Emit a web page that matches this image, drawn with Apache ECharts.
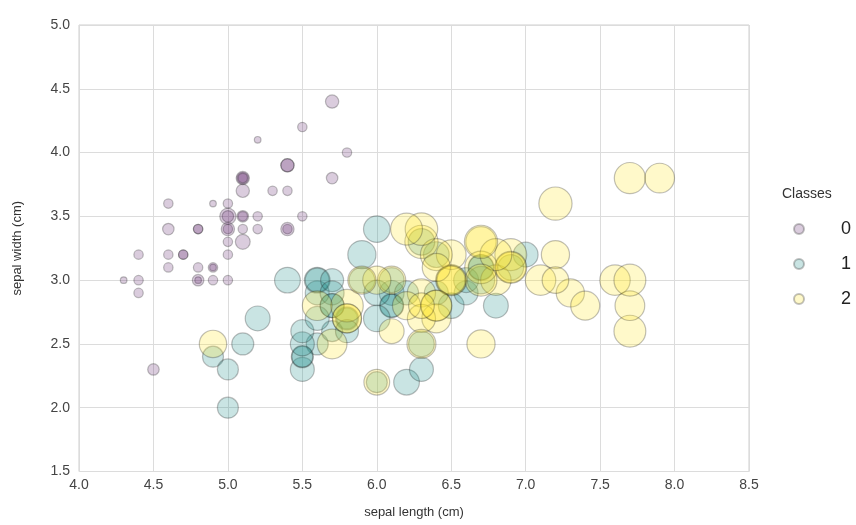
<!DOCTYPE html>
<html>
<head>
<meta charset="utf-8">
<script src="https://cdn.jsdelivr.net/npm/echarts@6/dist/echarts.min.js"></script>
<style>
  html, body { margin: 0; padding: 0; background: #fff; }
  #chart { width: 856px; height: 525px; }
</style>
</head>
<body>
<div id="chart"></div>
<script>
// Iris measurements per class: sepal length, sepal width, petal width (cm)
const sepalLength0 = [5.1,4.9,4.7,4.6,5.0,5.4,4.6,5.0,4.4,4.9,5.4,4.8,4.8,4.3,5.8,5.7,5.4,5.1,5.7,5.1,5.4,5.1,4.6,5.1,4.8,5.0,5.0,5.2,5.2,4.7,4.8,5.4,5.2,5.5,4.9,5.0,5.5,4.9,4.4,5.1,5.0,4.5,4.4,5.0,5.1,4.8,5.1,4.6,5.3,5.0];
const sepalWidth0  = [3.5,3.0,3.2,3.1,3.6,3.9,3.4,3.4,2.9,3.1,3.7,3.4,3.0,3.0,4.0,4.4,3.9,3.5,3.8,3.8,3.4,3.7,3.6,3.3,3.4,3.0,3.4,3.5,3.4,3.2,3.1,3.4,4.1,4.2,3.1,3.2,3.5,3.6,3.0,3.4,3.5,2.3,3.2,3.5,3.8,3.0,3.8,3.2,3.7,3.3];
const petalWidth0  = [0.2,0.2,0.2,0.2,0.2,0.4,0.3,0.2,0.2,0.1,0.2,0.2,0.1,0.1,0.2,0.4,0.4,0.3,0.3,0.3,0.2,0.4,0.2,0.5,0.2,0.2,0.4,0.2,0.2,0.2,0.2,0.4,0.1,0.2,0.2,0.2,0.2,0.1,0.2,0.2,0.3,0.3,0.2,0.6,0.4,0.3,0.2,0.2,0.2,0.2];

const sepalLength1 = [7.0,6.4,6.9,5.5,6.5,5.7,6.3,4.9,6.6,5.2,5.0,5.9,6.0,6.1,5.6,6.7,5.6,5.8,6.2,5.6,5.9,6.1,6.3,6.1,6.4,6.6,6.8,6.7,6.0,5.7,5.5,5.5,5.8,6.0,5.4,6.0,6.7,6.3,5.6,5.5,5.5,6.1,5.8,5.0,5.6,5.7,5.7,6.2,5.1,5.7];
const sepalWidth1  = [3.2,3.2,3.1,2.3,2.8,2.8,3.3,2.4,2.9,2.7,2.0,3.0,2.2,2.9,2.9,3.1,3.0,2.7,2.2,2.5,3.2,2.8,2.5,2.8,2.9,3.0,2.8,3.0,2.9,2.6,2.4,2.4,2.7,2.7,3.0,3.4,3.1,2.3,3.0,2.5,2.6,3.0,2.6,2.3,2.7,3.0,2.9,2.9,2.5,2.8];
const petalWidth1  = [1.4,1.5,1.5,1.3,1.5,1.3,1.6,1.0,1.3,1.4,1.0,1.5,1.0,1.4,1.3,1.4,1.5,1.0,1.5,1.1,1.8,1.3,1.5,1.2,1.3,1.4,1.4,1.7,1.5,1.0,1.1,1.0,1.2,1.6,1.5,1.6,1.5,1.3,1.3,1.3,1.2,1.4,1.2,1.0,1.3,1.2,1.3,1.3,1.1,1.3];

const sepalLength2 = [6.3,5.8,7.1,6.3,6.5,7.6,4.9,7.3,6.7,7.2,6.5,6.4,6.8,5.7,5.8,6.4,6.5,7.7,7.7,6.0,6.9,5.6,7.7,6.3,6.7,7.2,6.2,6.1,6.4,7.2,7.4,7.9,6.4,6.3,6.1,7.7,6.3,6.4,6.0,6.9,6.7,6.9,5.8,6.8,6.7,6.7,6.3,6.5,6.2,5.9];
const sepalWidth2  = [3.3,2.7,3.0,2.9,3.0,3.0,2.5,2.9,2.5,3.6,3.2,2.7,3.0,2.5,2.8,3.2,3.0,3.8,2.6,2.2,3.2,2.8,2.8,2.7,3.3,3.2,2.8,3.0,2.8,3.0,2.8,3.8,2.8,2.8,2.6,3.0,3.4,3.1,3.0,3.1,3.1,3.1,2.7,3.2,3.3,3.0,2.5,3.0,3.4,3.0];
const petalWidth2  = [2.5,1.9,2.1,1.8,2.2,2.1,1.7,1.8,1.8,2.5,2.0,1.9,2.1,2.0,2.4,2.3,1.8,2.2,2.3,1.5,2.3,2.0,2.0,1.8,2.1,1.8,1.8,1.8,2.1,1.6,1.9,2.0,2.2,1.5,1.4,2.3,2.4,1.8,1.8,2.1,2.4,2.3,1.9,2.3,2.5,2.3,1.9,2.0,2.3,1.8];

const classNames = ['0', '1', '2'];
const classColors = ['rgba(68,1,84,0.25)', 'rgba(33,145,140,0.3)', 'rgba(253,231,37,0.3)'];

function points(xs, ys, ws) {
  return xs.map((x, i) => [x, ys[i], ws[i]]);
}

const classData = [
  points(sepalLength0, sepalWidth0, petalWidth0),
  points(sepalLength1, sepalWidth1, petalWidth1),
  points(sepalLength2, sepalWidth2, petalWidth2)
];

const font = 'Liberation Sans, Arial, sans-serif';
const chart = echarts.init(document.getElementById('chart'));

chart.setOption({
  animation: false,
  backgroundColor: '#fff',
  title: {
    text: 'Classes',
    left: 777,
    top: 182,
    textStyle: { fontFamily: font, fontSize: 14, fontWeight: 'normal', color: '#333' }
  },
  grid: { left: 79, right: 107, top: 25, bottom: 53.5, show: true, borderColor: '#cfcfcf', borderWidth: 1 },
  xAxis: {
    type: 'value', min: 4.0, max: 8.5, interval: 0.5,
    name: 'sepal length (cm)', nameLocation: 'middle', nameGap: 34,
    nameTextStyle: { fontFamily: font, fontSize: 13, color: '#333' },
    axisLine: { show: false }, axisTick: { show: false },
    axisLabel: { fontFamily: font, fontSize: 14, color: '#444', margin: 7, formatter: v => v.toFixed(1) },
    splitLine: { lineStyle: { color: '#dcdcdc', width: 1 } }
  },
  yAxis: {
    type: 'value', min: 1.5, max: 5.0, interval: 0.5,
    name: 'sepal width (cm)', nameLocation: 'middle', nameGap: 55,
    nameTextStyle: { fontFamily: font, fontSize: 13, color: '#333' },
    axisLine: { show: false }, axisTick: { show: false },
    axisLabel: { fontFamily: font, fontSize: 14, color: '#444', margin: 9, formatter: v => v.toFixed(1) },
    splitLine: { lineStyle: { color: '#dcdcdc', width: 1 } }
  },
  legend: {
    orient: 'vertical',
    left: 788,
    top: 215,
    itemGap: 17,
    itemWidth: 10,
    itemHeight: 10,
    icon: 'circle',
    data: classNames,
    textStyle: { fontFamily: font, fontSize: 18, color: '#222', padding: [0, 0, 0, 32] }
  },
  series: classData.map((data, k) => ({
    name: classNames[k],
    type: 'scatter',
    data: data,
    symbolSize: d => 21 * Math.sqrt(d[2]),
    itemStyle: { color: classColors[k], borderColor: 'rgba(30,30,30,0.35)', borderWidth: 1.2 }
  }))
});
</script>
</body>
</html>
